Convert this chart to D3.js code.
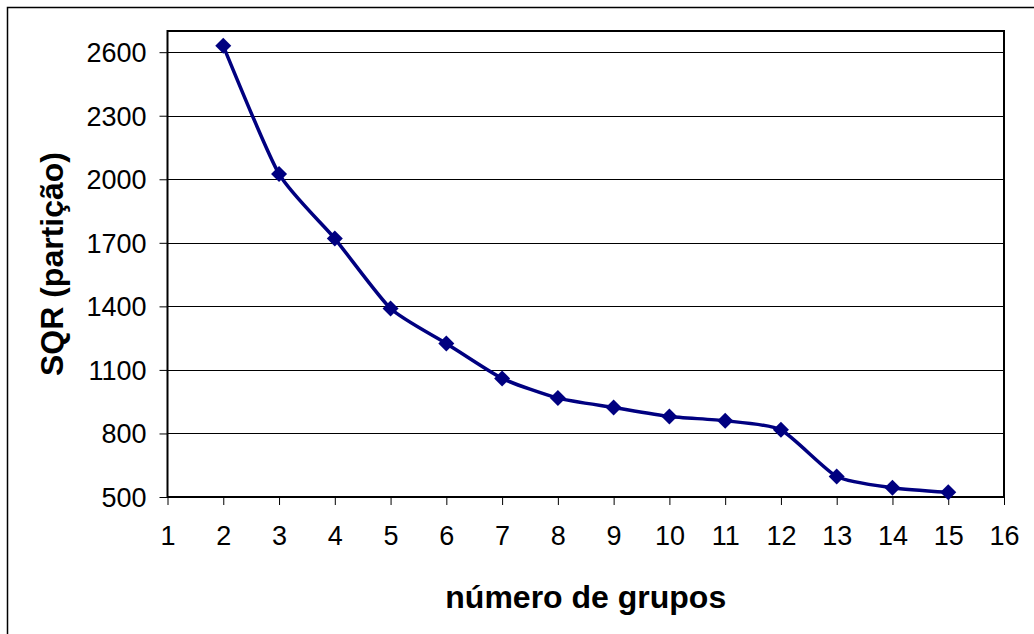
<!DOCTYPE html>
<html>
<head>
<meta charset="utf-8">
<script src="https://cdn.jsdelivr.net/npm/d3@7"></script>
<style>
  html, body { margin: 0; padding: 0; background: #fff; }
  svg { display: block; }
  text { font-family: "Liberation Sans", Arial, sans-serif; fill: #000; }
</style>
</head>
<body>
<svg id="chart" width="1034" height="634"></svg>
<script>
// Data
const groups = [2, 3, 4, 5, 6, 7, 8, 9, 10, 11, 12, 13, 14, 15];
const sqr = [2630, 2025, 1720, 1390, 1225, 1060, 967, 923, 880, 860, 817, 597, 544, 522];
const xTicks = [1, 2, 3, 4, 5, 6, 7, 8, 9, 10, 11, 12, 13, 14, 15, 16];
const yTicks = [500, 800, 1100, 1400, 1700, 2000, 2300, 2600];
const xTitle = "número de grupos";
const yTitle = "SQR (partição)";

(function () {
const svg = d3.select("#chart");
const pLeft = 167.5, pRight = 1004, pTop = 31, pBottom = 497;

const x = d3.scaleLinear().domain([1, 16]).range([pLeft, pRight]);
const y = d3.scaleLinear().domain([500, 2700]).range([pBottom, pTop]);

// Outer chart border
svg.append("rect")
  .attr("x", 7.5).attr("y", 7.5)
  .attr("width", 1040).attr("height", 640)
  .attr("fill", "none").attr("stroke", "#000").attr("stroke-width", 1.5);

// Gridlines
svg.append("g")
  .selectAll("line").data(yTicks).join("line")
  .attr("x1", pLeft).attr("x2", pRight)
  .attr("y1", d => Math.round(y(d)) + 0.5).attr("y2", d => Math.round(y(d)) + 0.5)
  .attr("stroke", "#000").attr("stroke-width", 1);

// Axes
const yAxis = d3.axisLeft(y).tickValues(yTicks).tickSize(8).tickPadding(13).tickFormat(d3.format("d"));
const gy = svg.append("g").attr("transform", `translate(${pLeft},0)`).call(yAxis);
gy.select(".domain").remove();
gy.selectAll("line").attr("stroke", "#000");
gy.selectAll("text").attr("font-size", 27).attr("dy", "0.35em")
  .attr("font-family", "Liberation Sans, Arial, sans-serif");

const xAxis = d3.axisBottom(x).tickValues(xTicks).tickSize(8).tickPadding(21).tickFormat(d3.format("d"));
const gx = svg.append("g").attr("transform", `translate(0,${pBottom})`).call(xAxis);
gx.select(".domain").remove();
gx.selectAll("line").attr("stroke", "#000");
gx.selectAll("text").attr("font-size", 27)
  .attr("font-family", "Liberation Sans, Arial, sans-serif");

// Plot border
svg.append("rect")
  .attr("x", pLeft).attr("y", pTop)
  .attr("width", pRight - pLeft).attr("height", pBottom - pTop)
  .attr("fill", "none").attr("stroke", "#000").attr("stroke-width", 2);

// Line
const pts = groups.map((g, i) => [g, sqr[i]]);
const line = d3.line().x(d => x(d[0])).y(d => y(d[1])).curve(d3.curveCardinal.tension(0.4));
svg.append("path").datum(pts)
  .attr("d", line)
  .attr("fill", "none").attr("stroke", "#000080").attr("stroke-width", 3.5)
  .attr("stroke-linejoin", "round");

// Diamond markers
const r = 8;
svg.append("g").selectAll("path").data(pts).join("path")
  .attr("transform", d => `translate(${x(d[0])},${y(d[1])})`)
  .attr("d", `M0,${-r}L${r},0L0,${r}L${-r},0Z`)
  .attr("fill", "#000080");

// Titles
svg.append("text")
  .attr("x", (pLeft + pRight) / 2).attr("y", 608)
  .attr("text-anchor", "middle")
  .attr("font-size", 32).attr("font-weight", "bold")
  .text(xTitle);

svg.append("text")
  .attr("transform", `translate(63,${(pTop + pBottom) / 2}) rotate(-90)`)
  .attr("text-anchor", "middle")
  .attr("font-size", 32).attr("font-weight", "bold")
  .text(yTitle);
})();
</script>
</body>
</html>
